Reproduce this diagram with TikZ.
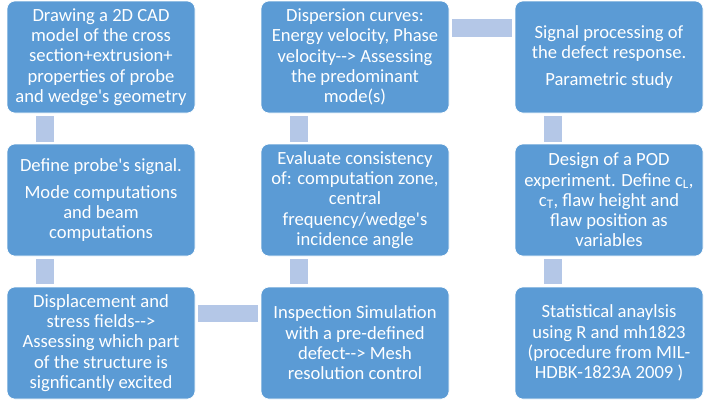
\documentclass[tikz,border=0pt]{standalone}
\usepackage{fontspec}
\setmainfont{Carlito}
\definecolor{boxblue}{HTML}{5B9BD5}
\definecolor{barblue}{HTML}{B4C7E7}
\newcommand{\ap}{\textquotesingle}
\newcommand{\arr}{-{}-{}>}
\begin{document}
\begin{tikzpicture}[x=1pt,y=-1pt,
  box/.style={rectangle, rounded corners=8pt, fill=boxblue, draw=white, line width=0.6pt,
    minimum width=188pt, minimum height=112pt, text=white, align=center,
    font=\fontsize{18.6}{20.3}\selectfont, inner sep=0pt},
  bar/.style={fill=barblue}]
\useasboundingbox (0,0) rectangle (719,400);
% boxes
\node[box] (b1) at (101,57) {Drawing a 2D CAD\\model of the cross\\section+extrusion+\\properties of probe\\and wedge\ap s geometry};
\node[box] (b2) at (101,200) {Define probe\ap s signal.\\[7pt]Mode computations\\and beam\\computations};
\node[box] (b3) at (101,343) {Displacement and\\stress fields\arr\\Assessing which part\\of the structure is\\signficantly excited};
\node[box] (b4) at (355,343) {Inspection Simulation\\with a pre-defined\\defect\arr{} Mesh\\resolution control};
\node[box] (b5) at (355,200) {Evaluate consistency\\of: computation zone,\\central\\frequency/wedge\ap s\\incidence angle};
\node[box] (b6) at (355,57) {Dispersion curves:\\Energy velocity, Phase\\velocity\arr{} Assessing\\the predominant\\mode(s)};
\node[box] (b7) at (609,57) {Signal processing of\\the defect response.\\[7pt]Parametric study};
\node[box] (b8) at (609,200) {Design of a POD\\experiment. Define c\textsubscript{L},\\c\textsubscript{T}, flaw height and\\flaw position as\\variables};
\node[box] (b9) at (609,343) {Statistical anaylsis\\using R and mh1823\\(procedure from MIL-\\HDBK-1823A 2009 )};
% connectors
\fill[bar] ([xshift=29pt,yshift=-3pt]b1.south west) rectangle ([xshift=47pt,yshift=2pt]b2.north west);
\fill[bar] ([xshift=29pt,yshift=-3pt]b2.south west) rectangle ([xshift=47pt,yshift=3pt]b3.north west);
\fill[bar] ([xshift=3pt,yshift=-18pt]b3.north east) rectangle ([xshift=-3pt,yshift=-35pt]b4.north west);
\fill[bar] ([xshift=29pt,yshift=3pt]b4.north west) rectangle ([xshift=47pt,yshift=-3pt]b5.south west);
\fill[bar] ([xshift=29pt,yshift=2pt]b5.north west) rectangle ([xshift=47pt,yshift=-3pt]b6.south west);
\fill[bar] ([xshift=3pt,yshift=-18pt]b6.north east) rectangle ([xshift=-3pt,yshift=-36pt]b7.north west);
\fill[bar] ([xshift=29pt,yshift=-3pt]b7.south west) rectangle ([xshift=47pt,yshift=2pt]b8.north west);
\fill[bar] ([xshift=29pt,yshift=-3pt]b8.south west) rectangle ([xshift=47pt,yshift=3pt]b9.north west);
\end{tikzpicture}
\end{document}
